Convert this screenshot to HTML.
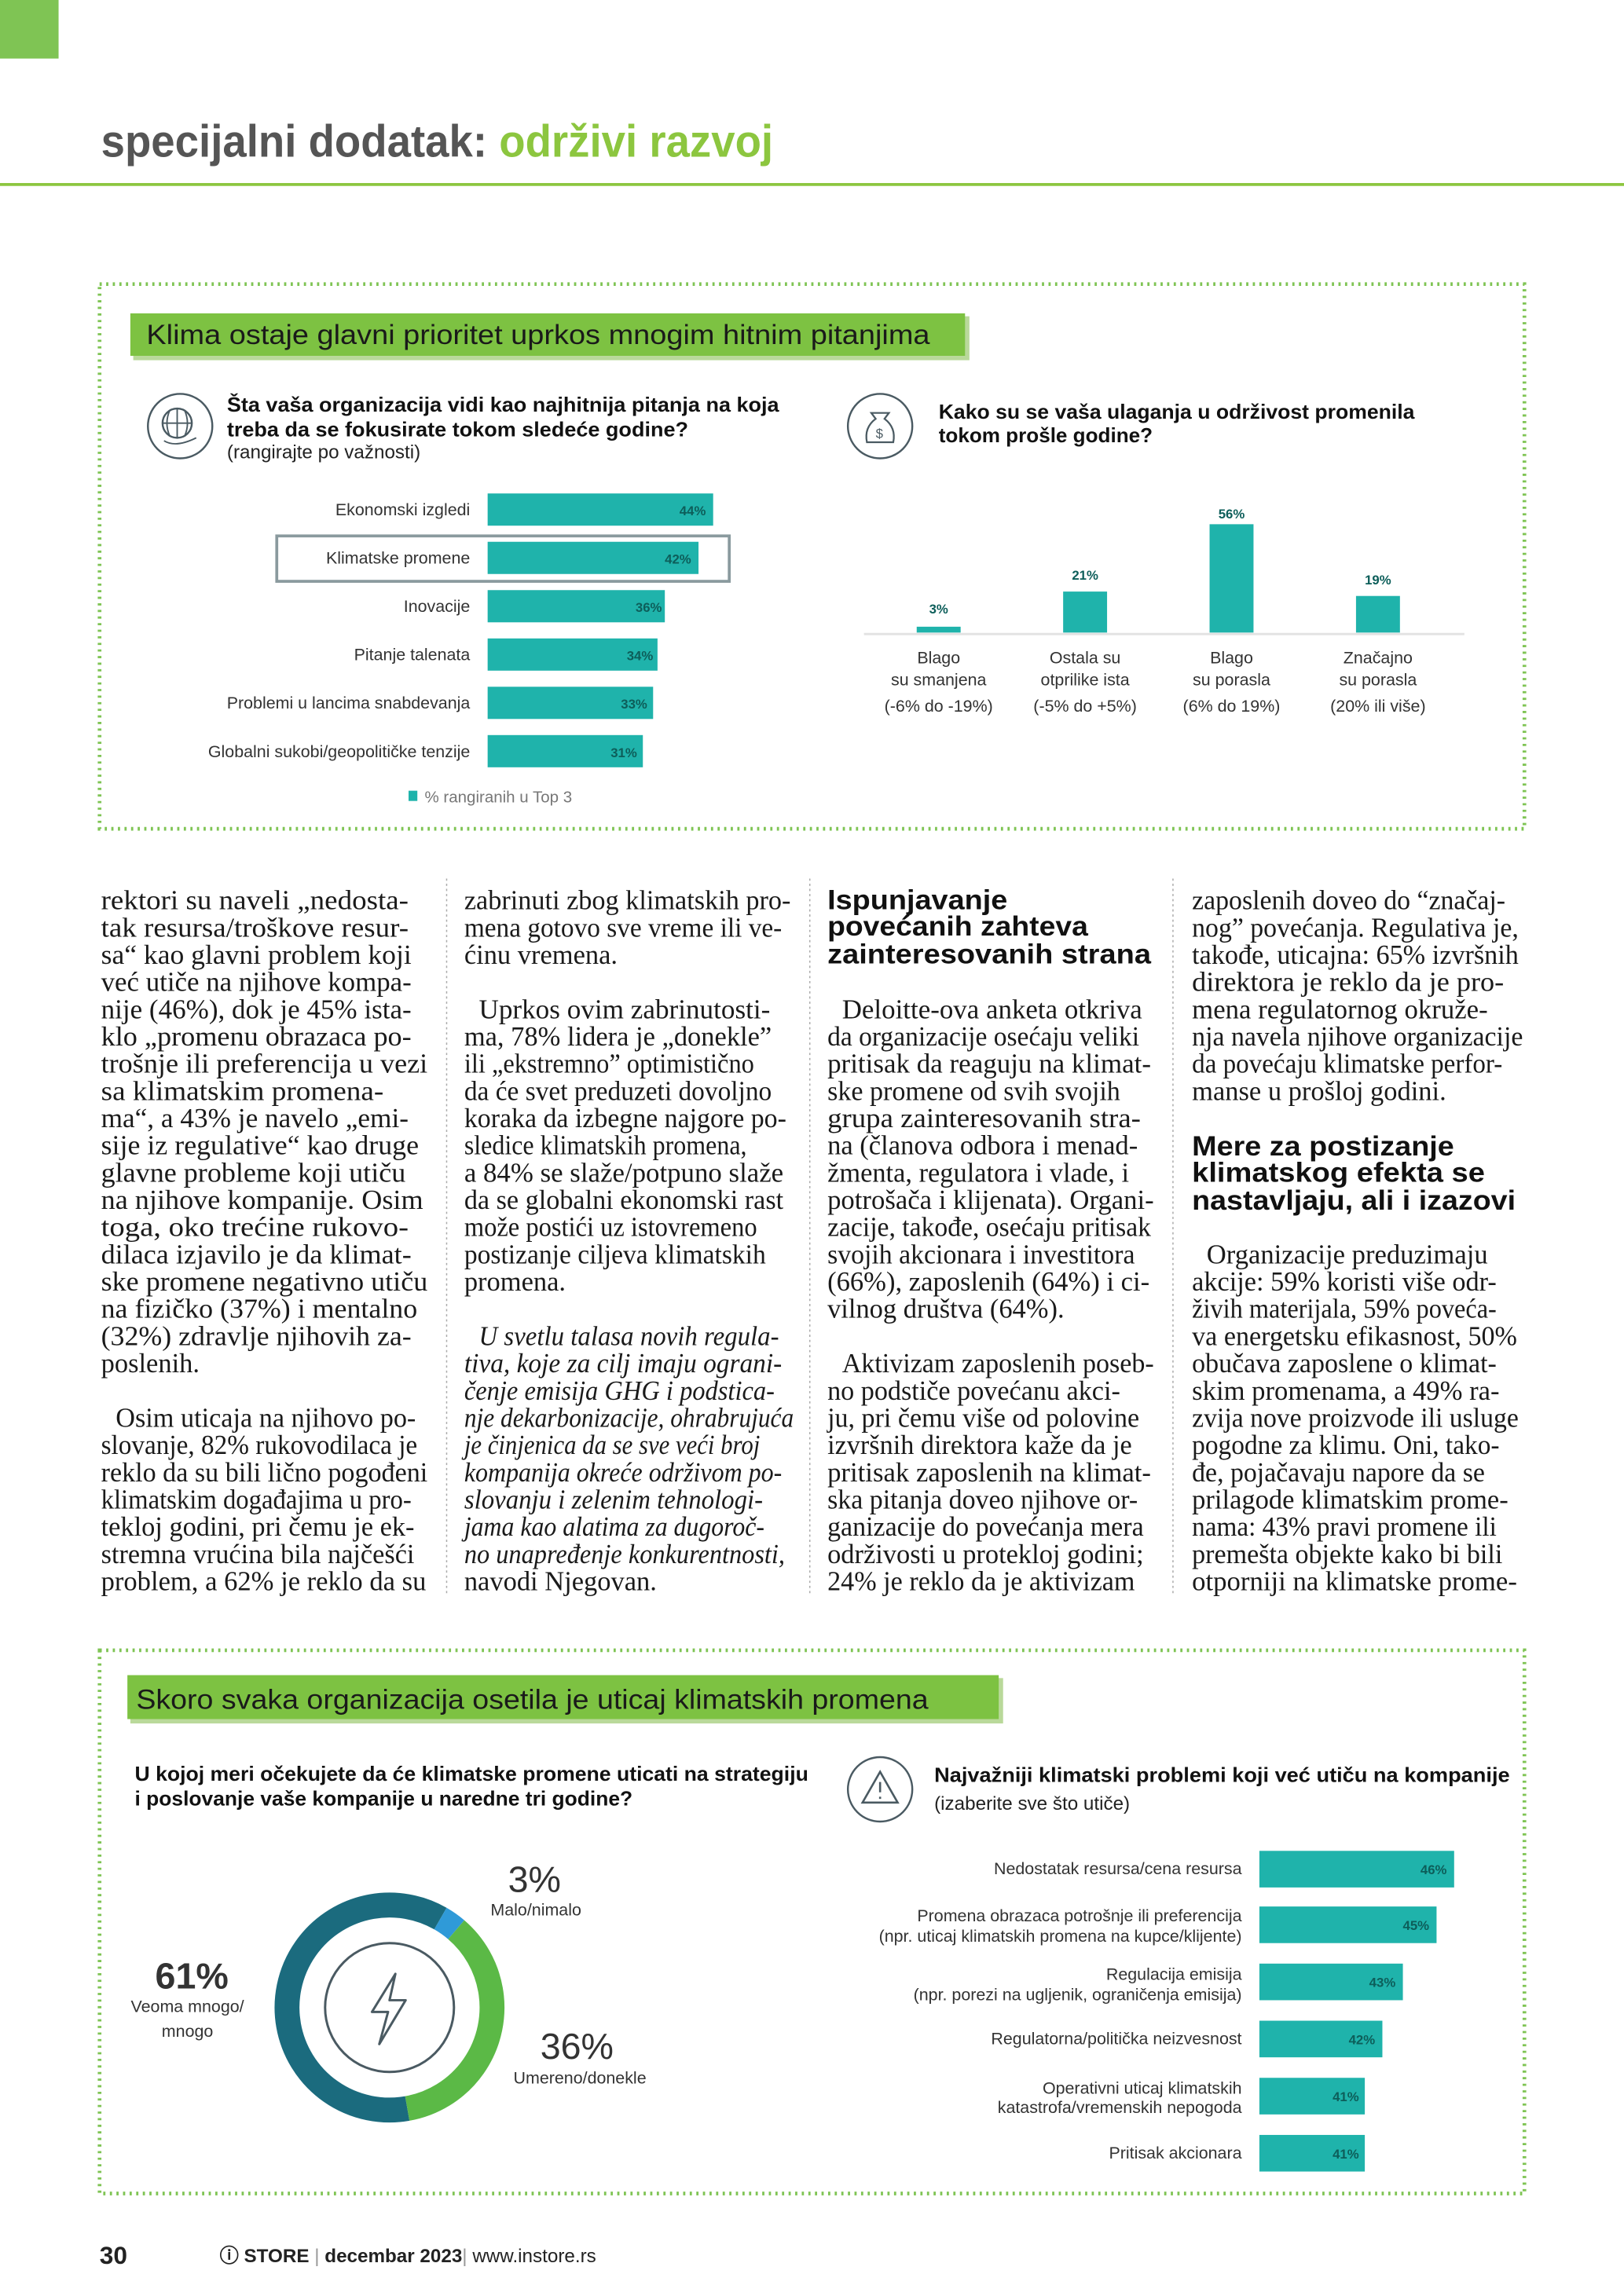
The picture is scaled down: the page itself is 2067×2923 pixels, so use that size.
<!DOCTYPE html>
<html><head><meta charset="utf-8">
<style>
html,body{margin:0;padding:0;background:#fff;}
svg{display:block;}
.b{font-family:"Liberation Serif",serif;font-size:18.5px;fill:#1a1a1a;}
.s{font-family:"Liberation Sans",sans-serif;}
.lab{font-family:"Liberation Sans",sans-serif;font-size:11.5px;fill:#333;}
.val{font-family:"Liberation Sans",sans-serif;font-size:9px;font-weight:bold;fill:#0d5e5a;}
.h{font-family:"Liberation Sans",sans-serif;font-size:19px;font-weight:bold;fill:#111;}
.q{font-family:"Liberation Sans",sans-serif;font-size:14px;font-weight:bold;fill:#111;}
</style></head>
<body>
<svg width="2067" height="2923" viewBox="0 0 1109 1568" preserveAspectRatio="none" xmlns="http://www.w3.org/2000/svg">
<rect x="0" y="0" width="40" height="40" fill="#7fc454"/>
<text x="69" y="107" class="s" font-size="31" font-weight="bold" fill="#555" textLength="459" lengthAdjust="spacingAndGlyphs">specijalni dodatak: <tspan fill="#8cc63f">održivi razvoj</tspan></text>
<rect x="0" y="125" width="1109" height="2" fill="#8cc63f"/>

<!-- Box 1 -->
<rect x="68" y="194" width="973" height="372" fill="none" stroke="#7fc454" stroke-width="2.5" stroke-dasharray="1.5 3"/>
<rect x="91" y="216" width="571" height="30" fill="#b9d99a"/>
<rect x="89" y="214" width="570" height="29" fill="#7dc242"/>
<text x="100" y="235" class="s" font-size="19" fill="#1a1a1a" textLength="535" lengthAdjust="spacingAndGlyphs">Klima ostaje glavni prioritet uprkos mnogim hitnim pitanjima</text>

<circle cx="123" cy="291" r="22" fill="none" stroke="#4a5a62" stroke-width="1.3"/>
<circle cx="121" cy="289" r="10" fill="none" stroke="#4a5a62" stroke-width="1.3"/>
<path d="M111 289h20M121 279v20M116 280q-4 9 0 18M126 280q4 9 0 18M112 301q8 5 22-2" fill="none" stroke="#4a5a62" stroke-width="1"/>
<text x="155" y="281" class="q" textLength="377" lengthAdjust="spacingAndGlyphs">Šta vaša organizacija vidi kao najhitnija pitanja na koja</text>
<text x="155" y="298" class="q" textLength="315" lengthAdjust="spacingAndGlyphs">treba da se fokusirate tokom sledeće godine?</text>
<text x="155" y="313" class="s" font-size="13" fill="#222">(rangirajte po važnosti)</text>

<circle cx="601" cy="291" r="22" fill="none" stroke="#4a5a62" stroke-width="1.3"/>
<path d="M595 282h12l-3 4q8 6 6 16h-18q-2-10 6-16z" fill="none" stroke="#4a5a62" stroke-width="1.2"/>
<text x="598" y="299" class="s" font-size="9" fill="#4a5a62">$</text>
<text x="641" y="286" class="q" textLength="325" lengthAdjust="spacingAndGlyphs">Kako su se vaša ulaganja u održivost promenila</text>
<text x="641" y="302" class="q">tokom prošle godine?</text>

<rect x="189" y="366" width="309" height="31" fill="none" stroke="#8a9a9e" stroke-width="2"/>
<g fill="#1fb3ab">
<rect x="333" y="337" width="154" height="22"/>
<rect x="333" y="370" width="144" height="22"/>
<rect x="333" y="403" width="121" height="22"/>
<rect x="333" y="436" width="116" height="22"/>
<rect x="333" y="469" width="113" height="22"/>
<rect x="333" y="502" width="106" height="22"/>
</g>
<g class="lab" text-anchor="end">
<text x="321" y="352">Ekonomski izgledi</text>
<text x="321" y="385">Klimatske promene</text>
<text x="321" y="418">Inovacije</text>
<text x="321" y="451">Pitanje talenata</text>
<text x="321" y="484">Problemi u lancima snabdevanja</text>
<text x="321" y="517">Globalni sukobi/geopolitičke tenzije</text>
</g>
<g class="val" text-anchor="end">
<text x="482" y="352">44%</text>
<text x="472" y="385">42%</text>
<text x="452" y="418">36%</text>
<text x="446" y="451">34%</text>
<text x="442" y="484">33%</text>
<text x="435" y="517">31%</text>
</g>
<rect x="279" y="540" width="6" height="7" fill="#1fb3ab"/>
<text x="290" y="548" class="s" font-size="11" fill="#777">% rangiranih u Top 3</text>

<line x1="590" y1="433" x2="1000" y2="433" stroke="#e2e2e2" stroke-width="1.5"/>
<g fill="#1fb3ab">
<rect x="626" y="428" width="30" height="4"/>
<rect x="726" y="404" width="30" height="28"/>
<rect x="826" y="358" width="30" height="74"/>
<rect x="926" y="407" width="30" height="25"/>
</g>
<g class="val" text-anchor="middle">
<text x="641" y="419">3%</text>
<text x="741" y="396">21%</text>
<text x="841" y="354">56%</text>
<text x="941" y="399">19%</text>
</g>
<g class="lab" text-anchor="middle">
<text x="641" y="453">Blago</text><text x="641" y="468">su smanjena</text><text x="641" y="486">(-6% do -19%)</text>
<text x="741" y="453">Ostala su</text><text x="741" y="468">otprilike ista</text><text x="741" y="486">(-5% do +5%)</text>
<text x="841" y="453">Blago</text><text x="841" y="468">su porasla</text><text x="841" y="486">(6% do 19%)</text>
<text x="941" y="453">Značajno</text><text x="941" y="468">su porasla</text><text x="941" y="486">(20% ili više)</text>
</g>

<!-- separators -->
<g stroke="#aaa" stroke-width="0.8" stroke-dasharray="1.5 2">
<line x1="305" y1="600" x2="305" y2="1090"/>
<line x1="553" y1="600" x2="553" y2="1090"/>
<line x1="801" y1="600" x2="801" y2="1090"/>
</g>

<!-- Column 1 -->
<g class="b">
<text x="69" y="621" textLength="210" lengthAdjust="spacingAndGlyphs">rektori su naveli „nedosta-</text>
<text x="69" y="639.6" textLength="210" lengthAdjust="spacingAndGlyphs">tak resursa/troškove resur-</text>
<text x="69" y="658.2" textLength="212" lengthAdjust="spacingAndGlyphs">sa“ kao glavni problem koji</text>
<text x="69" y="676.8" textLength="212" lengthAdjust="spacingAndGlyphs">već utiče na njihove kompa-</text>
<text x="69" y="695.4" textLength="212" lengthAdjust="spacingAndGlyphs">nije (46%), dok je 45% ista-</text>
<text x="69" y="714" textLength="212" lengthAdjust="spacingAndGlyphs">klo „promenu obrazaca po-</text>
<text x="69" y="732.6" textLength="223" lengthAdjust="spacingAndGlyphs">trošnje ili preferencija u vezi</text>
<text x="69" y="751.2" textLength="193" lengthAdjust="spacingAndGlyphs">sa klimatskim promena-</text>
<text x="69" y="769.8" textLength="210" lengthAdjust="spacingAndGlyphs">ma“, a 43% je navelo „emi-</text>
<text x="69" y="788.4" textLength="217" lengthAdjust="spacingAndGlyphs">sije iz regulative“ kao druge</text>
<text x="69" y="807" textLength="208" lengthAdjust="spacingAndGlyphs">glavne probleme koji utiču</text>
<text x="69" y="825.6" textLength="220" lengthAdjust="spacingAndGlyphs">na njihove kompanije. Osim</text>
<text x="69" y="844.2" textLength="210" lengthAdjust="spacingAndGlyphs">toga, oko trećine rukovo-</text>
<text x="69" y="862.8" textLength="212" lengthAdjust="spacingAndGlyphs">dilaca izjavilo je da klimat-</text>
<text x="69" y="881.4" textLength="223" lengthAdjust="spacingAndGlyphs">ske promene negativno utiču</text>
<text x="69" y="900" textLength="216" lengthAdjust="spacingAndGlyphs">na fizičko (37%) i mentalno</text>
<text x="69" y="918.6" textLength="212" lengthAdjust="spacingAndGlyphs">(32%) zdravlje njihovih za-</text>
<text x="69" y="937.2">poslenih.</text>
<text x="79" y="974.4" textLength="205" lengthAdjust="spacingAndGlyphs">Osim uticaja na njihovo po-</text>
<text x="69" y="993" textLength="216" lengthAdjust="spacingAndGlyphs">slovanje, 82% rukovodilaca je</text>
<text x="69" y="1011.6" textLength="223" lengthAdjust="spacingAndGlyphs">reklo da su bili lično pogođeni</text>
<text x="69" y="1030.2" textLength="212" lengthAdjust="spacingAndGlyphs">klimatskim događajima u pro-</text>
<text x="69" y="1048.8" textLength="214" lengthAdjust="spacingAndGlyphs">tekloj godini, pri čemu je ek-</text>
<text x="69" y="1067.4" textLength="214" lengthAdjust="spacingAndGlyphs">stremna vrućina bila najčešći</text>
<text x="69" y="1086" textLength="222" lengthAdjust="spacingAndGlyphs">problem, a 62% je reklo da su</text>
</g>

<!-- Column 2 -->
<g class="b">
<text x="317" y="621" textLength="223" lengthAdjust="spacingAndGlyphs">zabrinuti zbog klimatskih pro-</text>
<text x="317" y="639.6" textLength="217" lengthAdjust="spacingAndGlyphs">mena gotovo sve vreme ili ve-</text>
<text x="317" y="658.2">ćinu vremena.</text>
<text x="327" y="695.4" textLength="199" lengthAdjust="spacingAndGlyphs">Uprkos ovim zabrinutosti-</text>
<text x="317" y="714" textLength="210" lengthAdjust="spacingAndGlyphs">ma, 78% lidera je „donekle”</text>
<text x="317" y="732.6" textLength="198" lengthAdjust="spacingAndGlyphs">ili „ekstremno” optimistično</text>
<text x="317" y="751.2" textLength="210" lengthAdjust="spacingAndGlyphs">da će svet preduzeti dovoljno</text>
<text x="317" y="769.8" textLength="220" lengthAdjust="spacingAndGlyphs">koraka da izbegne najgore po-</text>
<text x="317" y="788.4" textLength="193" lengthAdjust="spacingAndGlyphs">sledice klimatskih promena,</text>
<text x="317" y="807" textLength="218" lengthAdjust="spacingAndGlyphs">a 84% se slaže/potpuno slaže</text>
<text x="317" y="825.6" textLength="218" lengthAdjust="spacingAndGlyphs">da se globalni ekonomski rast</text>
<text x="317" y="844.2" textLength="200" lengthAdjust="spacingAndGlyphs">može postići uz istovremeno</text>
<text x="317" y="862.8" textLength="206" lengthAdjust="spacingAndGlyphs">postizanje ciljeva klimatskih</text>
<text x="317" y="881.4">promena.</text>
<g font-style="italic">
<text x="327" y="918.6" textLength="205" lengthAdjust="spacingAndGlyphs">U svetlu talasa novih regula-</text>
<text x="317" y="937.2" textLength="217" lengthAdjust="spacingAndGlyphs">tiva, koje za cilj imaju ograni-</text>
<text x="317" y="955.8" textLength="212" lengthAdjust="spacingAndGlyphs">čenje emisija GHG i podstica-</text>
<text x="317" y="974.4" textLength="225" lengthAdjust="spacingAndGlyphs">nje dekarbonizacije, ohrabrujuća</text>
<text x="317" y="993" textLength="202" lengthAdjust="spacingAndGlyphs">je činjenica da se sve veći broj</text>
<text x="317" y="1011.6" textLength="217" lengthAdjust="spacingAndGlyphs">kompanija okreće održivom po-</text>
<text x="317" y="1030.2" textLength="204" lengthAdjust="spacingAndGlyphs">slovanju i zelenim tehnologi-</text>
<text x="317" y="1048.8" textLength="205" lengthAdjust="spacingAndGlyphs">jama kao alatima za dugoroč-</text>
<text x="317" y="1067.4" textLength="219" lengthAdjust="spacingAndGlyphs">no unapređenje konkurentnosti,</text>
</g>
<text x="317" y="1086">navodi Njegovan.</text>
</g>

<!-- Column 3 -->
<text x="565" y="621" class="h" textLength="123" lengthAdjust="spacingAndGlyphs">Ispunjavanje</text>
<text x="565" y="639" class="h" textLength="178" lengthAdjust="spacingAndGlyphs">povećanih zahteva</text>
<text x="565" y="658" class="h" textLength="221" lengthAdjust="spacingAndGlyphs">zainteresovanih strana</text>
<g class="b">
<text x="575" y="695.4" textLength="205" lengthAdjust="spacingAndGlyphs">Deloitte-ova anketa otkriva</text>
<text x="565" y="714" textLength="213" lengthAdjust="spacingAndGlyphs">da organizacije osećaju veliki</text>
<text x="565" y="732.6" textLength="221" lengthAdjust="spacingAndGlyphs">pritisak da reaguju na klimat-</text>
<text x="565" y="751.2" textLength="200" lengthAdjust="spacingAndGlyphs">ske promene od svih svojih</text>
<text x="565" y="769.8" textLength="214" lengthAdjust="spacingAndGlyphs">grupa zainteresovanih stra-</text>
<text x="565" y="788.4" textLength="212" lengthAdjust="spacingAndGlyphs">na (članova odbora i menad-</text>
<text x="565" y="807" textLength="206" lengthAdjust="spacingAndGlyphs">žmenta, regulatora i vlade, i</text>
<text x="565" y="825.6" textLength="223" lengthAdjust="spacingAndGlyphs">potrošača i klijenata). Organi-</text>
<text x="565" y="844.2" textLength="221" lengthAdjust="spacingAndGlyphs">zacije, takođe, osećaju pritisak</text>
<text x="565" y="862.8" textLength="210" lengthAdjust="spacingAndGlyphs">svojih akcionara i investitora</text>
<text x="565" y="881.4" textLength="220" lengthAdjust="spacingAndGlyphs">(66%), zaposlenih (64%) i ci-</text>
<text x="565" y="900">vilnog društva (64%).</text>
<text x="575" y="937.2" textLength="213" lengthAdjust="spacingAndGlyphs">Aktivizam zaposlenih poseb-</text>
<text x="565" y="955.8" textLength="200" lengthAdjust="spacingAndGlyphs">no podstiče povećanu akci-</text>
<text x="565" y="974.4" textLength="213" lengthAdjust="spacingAndGlyphs">ju, pri čemu više od polovine</text>
<text x="565" y="993" textLength="208" lengthAdjust="spacingAndGlyphs">izvršnih direktora kaže da je</text>
<text x="565" y="1011.6" textLength="221" lengthAdjust="spacingAndGlyphs">pritisak zaposlenih na klimat-</text>
<text x="565" y="1030.2" textLength="212" lengthAdjust="spacingAndGlyphs">ska pitanja doveo njihove or-</text>
<text x="565" y="1048.8" textLength="216" lengthAdjust="spacingAndGlyphs">ganizacije do povećanja mera</text>
<text x="565" y="1067.4" textLength="216" lengthAdjust="spacingAndGlyphs">održivosti u protekloj godini;</text>
<text x="565" y="1086" textLength="210" lengthAdjust="spacingAndGlyphs">24% je reklo da je aktivizam</text>
</g>

<!-- Column 4 -->
<g class="b">
<text x="814" y="621" textLength="214" lengthAdjust="spacingAndGlyphs">zaposlenih doveo do “značaj-</text>
<text x="814" y="639.6" textLength="223" lengthAdjust="spacingAndGlyphs">nog” povećanja. Regulativa je,</text>
<text x="814" y="658.2" textLength="223" lengthAdjust="spacingAndGlyphs">takođe, uticajna: 65% izvršnih</text>
<text x="814" y="676.8" textLength="213" lengthAdjust="spacingAndGlyphs">direktora je reklo da je pro-</text>
<text x="814" y="695.4" textLength="202" lengthAdjust="spacingAndGlyphs">mena regulatornog okruže-</text>
<text x="814" y="714" textLength="226" lengthAdjust="spacingAndGlyphs">nja navela njihove organizacije</text>
<text x="814" y="732.6" textLength="212" lengthAdjust="spacingAndGlyphs">da povećaju klimatske perfor-</text>
<text x="814" y="751.2">manse u prošloj godini.</text>
</g>
<text x="814" y="789" class="h" textLength="179" lengthAdjust="spacingAndGlyphs">Mere za postizanje</text>
<text x="814" y="807" class="h" textLength="200" lengthAdjust="spacingAndGlyphs">klimatskog efekta se</text>
<text x="814" y="826" class="h" textLength="221" lengthAdjust="spacingAndGlyphs">nastavljaju, ali i izazovi</text>
<g class="b">
<text x="824" y="862.8" textLength="192" lengthAdjust="spacingAndGlyphs">Organizacije preduzimaju</text>
<text x="814" y="881.4" textLength="208" lengthAdjust="spacingAndGlyphs">akcije: 59% koristi više odr-</text>
<text x="814" y="900" textLength="208" lengthAdjust="spacingAndGlyphs">živih materijala, 59% poveća-</text>
<text x="814" y="918.6" textLength="222" lengthAdjust="spacingAndGlyphs">va energetsku efikasnost, 50%</text>
<text x="814" y="937.2" textLength="208" lengthAdjust="spacingAndGlyphs">obučava zaposlene o klimat-</text>
<text x="814" y="955.8" textLength="210" lengthAdjust="spacingAndGlyphs">skim promenama, a 49% ra-</text>
<text x="814" y="974.4" textLength="223" lengthAdjust="spacingAndGlyphs">zvija nove proizvode ili usluge</text>
<text x="814" y="993" textLength="210" lengthAdjust="spacingAndGlyphs">pogodne za klimu. Oni, tako-</text>
<text x="814" y="1011.6" textLength="200" lengthAdjust="spacingAndGlyphs">đe, pojačavaju napore da se</text>
<text x="814" y="1030.2" textLength="216" lengthAdjust="spacingAndGlyphs">prilagode klimatskim prome-</text>
<text x="814" y="1048.8" textLength="208" lengthAdjust="spacingAndGlyphs">nama: 43% pravi promene ili</text>
<text x="814" y="1067.4" textLength="212" lengthAdjust="spacingAndGlyphs">premešta objekte kako bi bili</text>
<text x="814" y="1086" textLength="222" lengthAdjust="spacingAndGlyphs">otporniji na klimatske prome-</text>
</g>

<!-- Box 2 -->
<rect x="68" y="1127" width="973" height="371" fill="none" stroke="#7fc454" stroke-width="2.5" stroke-dasharray="1.5 3"/>
<rect x="89" y="1146" width="596" height="31" fill="#b9d99a"/>
<rect x="87" y="1144" width="595" height="30" fill="#7dc242"/>
<text x="93" y="1167" class="s" font-size="19" fill="#1a1a1a" textLength="541" lengthAdjust="spacingAndGlyphs">Skoro svaka organizacija osetila je uticaj klimatskih promena</text>

<text x="92" y="1216" class="q" textLength="460" lengthAdjust="spacingAndGlyphs">U kojoj meri očekujete da će klimatske promene uticati na strategiju</text>
<text x="92" y="1233" class="q" textLength="340" lengthAdjust="spacingAndGlyphs">i poslovanje vaše kompanije u naredne tri godine?</text>

<!-- donut: center 266,1371 r 71 stroke 17 ; circumference 446.1 -->
<g transform="rotate(80 266 1371)" fill="none" stroke-width="17">
<circle cx="266" cy="1371" r="70" stroke="#1b6b7e" stroke-dasharray="268.4 1000" />
<circle cx="266" cy="1371" r="70" stroke="#2f9ad8" stroke-dasharray="0 268.4 13.2 1000"/>
<circle cx="266" cy="1371" r="70" stroke="#5bb946" stroke-dasharray="0 281.6 158.3 1000"/>
</g>
<circle cx="266" cy="1371" r="44" fill="none" stroke="#4a5a62" stroke-width="1.6"/>
<path d="M270 1348l-16 26h11l-6 22 18-30h-11z" fill="none" stroke="#4a5a62" stroke-width="1.6" stroke-linejoin="round"/>
<text x="365" y="1292" class="s" font-size="25" fill="#333" text-anchor="middle">3%</text>
<text x="366" y="1308" class="lab" text-anchor="middle">Malo/nimalo</text>
<text x="131" y="1358" class="s" font-size="25" font-weight="bold" fill="#333" text-anchor="middle">61%</text>
<text x="128" y="1374" class="lab" text-anchor="middle">Veoma mnogo/</text>
<text x="128" y="1391" class="lab" text-anchor="middle">mnogo</text>
<text x="394" y="1406" class="s" font-size="25" fill="#333" text-anchor="middle">36%</text>
<text x="396" y="1423" class="lab" text-anchor="middle">Umereno/donekle</text>

<circle cx="601" cy="1222" r="22" fill="none" stroke="#4a5a62" stroke-width="1.3"/>
<path d="M601 1210l-12 21h24z M601 1217v7 M601 1227v1.5" fill="none" stroke="#4a5a62" stroke-width="1.4"/>
<text x="638" y="1217" class="q" textLength="393" lengthAdjust="spacingAndGlyphs">Najvažniji klimatski problemi koji već utiču na kompanije</text>
<text x="638" y="1236" class="s" font-size="13" fill="#222">(izaberite sve što utiče)</text>

<g fill="#1fb3ab">
<rect x="860" y="1264" width="133" height="25"/>
<rect x="860" y="1302" width="121" height="25"/>
<rect x="860" y="1341" width="98" height="25"/>
<rect x="860" y="1380" width="84" height="25"/>
<rect x="860" y="1419" width="72" height="25"/>
<rect x="860" y="1458" width="72" height="25"/>
</g>
<g class="lab" text-anchor="end">
<text x="848" y="1280">Nedostatak resursa/cena resursa</text>
<text x="848" y="1312">Promena obrazaca potrošnje ili preferencija</text>
<text x="848" y="1326">(npr. uticaj klimatskih promena na kupce/klijente)</text>
<text x="848" y="1352">Regulacija emisija</text>
<text x="848" y="1366">(npr. porezi na ugljenik, ograničenja emisija)</text>
<text x="848" y="1396">Regulatorna/politička neizvesnost</text>
<text x="848" y="1430">Operativni uticaj klimatskih</text>
<text x="848" y="1443">katastrofa/vremenskih nepogoda</text>
<text x="848" y="1474">Pritisak akcionara</text>
</g>
<g class="val" text-anchor="end">
<text x="988" y="1280">46%</text>
<text x="976" y="1318">45%</text>
<text x="953" y="1357">43%</text>
<text x="939" y="1396">42%</text>
<text x="928" y="1435">41%</text>
<text x="928" y="1474">41%</text>
</g>

<!-- footer -->
<text x="68" y="1546" class="s" font-size="17" font-weight="bold" fill="#222">30</text>
<text x="150" y="1545" class="s" font-size="13" fill="#222"><tspan font-weight="bold">ⓘ STORE</tspan> <tspan fill="#999">|</tspan> <tspan font-weight="bold">decembar 2023</tspan><tspan fill="#999">|</tspan> www.instore.rs</text>
</svg>
</body></html>
